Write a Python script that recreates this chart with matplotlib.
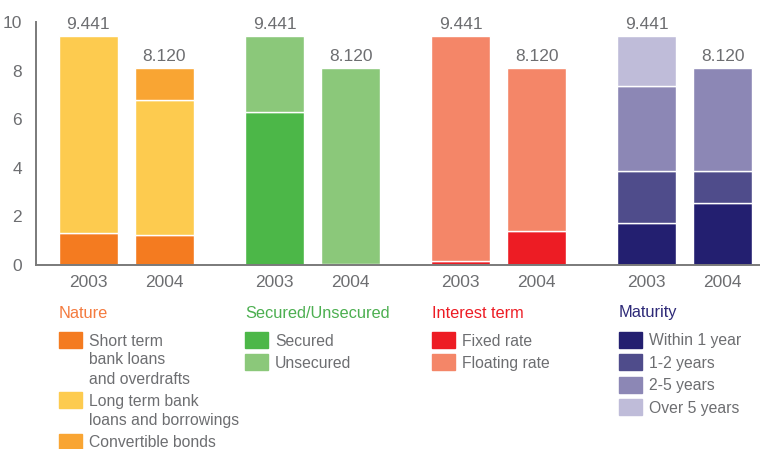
import matplotlib.pyplot as plt
from matplotlib.patches import Rectangle
from matplotlib import font_manager

names = {f.name for f in font_manager.fontManager.ttflist}
plt.rcParams['font.family'] = ['Liberation Sans Narrow' if 'Liberation Sans Narrow' in names else 'Liberation Sans', 'DejaVu Sans']

years = ['2003', '2004']
totals = [9.441, 8.120]

groups = ['Nature', 'Secured/Unsecured', 'Interest term', 'Maturity']
group_colors = ['#F47B3F', '#4CAF50', '#ED1C24', '#2E2A78']

# stacked segments per group: (label, colour, [2003, 2004])
nature = [
    ('Short term\nbank loans\nand overdrafts', '#F47B20', [1.30, 1.22]),
    ('Long term bank\nloans and borrowings', '#FDCB4F', [8.141, 5.58]),
    ('Convertible bonds', '#F9A533', [0.0, 1.32]),
]
secured = [
    ('Secured', '#4CB748', [6.28, 0.06]),
    ('Unsecured', '#8BC87A', [3.161, 8.06]),
]
interest = [
    ('Fixed rate', '#ED1C24', [0.15, 1.41]),
    ('Floating rate', '#F48668', [9.291, 6.71]),
]
maturity = [
    ('Within 1 year', '#231F70', [1.73, 2.56]),
    ('1-2 years', '#4F4C8B', [2.15, 1.30]),
    ('2-5 years', '#8C87B5', [3.50, 4.26]),
    ('Over 5 years', '#BFBCD9', [2.061, 0.0]),
]
stacks = [nature, secured, interest, maturity]

grey = '#6D6E71'
W, H = 760, 449

fig = plt.figure(figsize=(W / 100, H / 100), dpi=100)
ax = fig.add_axes([36 / W, 1 - 265 / H, 1 - 36 / W, (265 - 22) / H])


def px(x, y):
    return x / W, 1 - y / H


group_step, pair_step, width = 2.45, 1.0, 0.78
xticks = []
for g, stack in enumerate(stacks):
    for i in range(2):
        x = g * group_step + i * pair_step
        xticks.append(x)
        bottom = 0
        for label, color, vals in stack:
            if vals[i] > 0:
                ax.bar(x, vals[i], width, bottom=bottom, color=color,
                       edgecolor='white', linewidth=1)
            bottom += vals[i]
        ax.text(x, totals[i] + 0.15, f'{totals[i]:.3f}', ha='center', va='bottom',
                color=grey, fontsize=12.5)

ax.set_xlim(-0.69, 8.84)
ax.set_ylim(0, 10)
ax.set_xticks(xticks)
ax.set_xticklabels(years * 4)
ax.set_yticks(range(0, 11, 2))
ax.tick_params(length=0, colors=grey, labelsize=12.5, pad=7)
ax.tick_params(axis='y', pad=10)
for s in ['top', 'right']:
    ax.spines[s].set_visible(False)
for s in ['left', 'bottom']:
    ax.spines[s].set_color('#7A7A7A')
    ax.spines[s].set_linewidth(1.4)
ax.spines['bottom'].set_zorder(5)

# legend blocks under each group
col_x = [59, 245, 432, 619]
line_h = 19
row_h = 22.4
for g, stack in enumerate(stacks):
    x0 = col_x[g]
    fig.text(*px(x0, 313), groups[g], color=group_colors[g], fontsize=11.8,
             ha='left', va='center')
    y = 332
    for label, color, vals in stack:
        fig.add_artist(Rectangle(px(x0, y + 16), 23 / W, 16 / H,
                                 transform=fig.transFigure, color=color))
        nlines = label.count('\n') + 1
        for k, line in enumerate(label.split('\n')):
            fig.text(*px(x0 + 30, y + 9 + k * line_h), line, color=grey,
                     fontsize=11.3, ha='left', va='center')
        y += row_h + (nlines - 1) * line_h

fig.savefig('out.png', dpi=100)
